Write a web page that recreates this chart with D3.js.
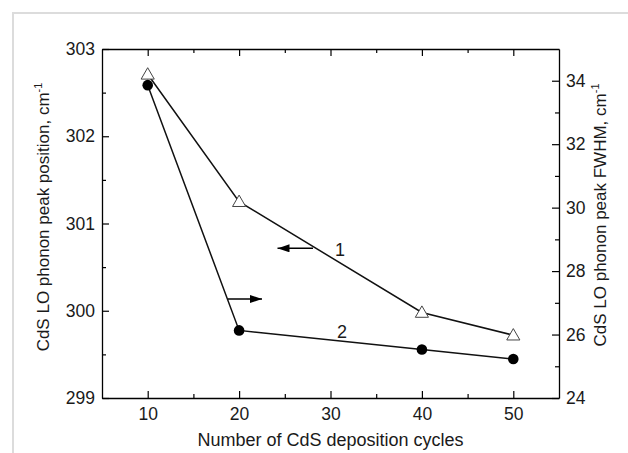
<!DOCTYPE html>
<html><head><meta charset="utf-8">
<script src="https://cdn.jsdelivr.net/npm/d3@7"></script>
<style>html,body{margin:0;padding:0;background:#fff;}svg{display:block;}</style>
</head><body>
<svg id="c" width="628" height="453"></svg>
<script>
const cycles = [10, 20, 40, 50];
const peakPosition = [302.71, 301.25, 299.98, 299.72]; // series 1, left axis (triangles)
const peakFWHM = [33.86, 26.13, 25.53, 25.23];          // series 2, right axis (circles)
const xTicks = [10, 20, 30, 40, 50];
const yLeftTicks = [299, 300, 301, 302, 303];
const yRightTicks = [24, 26, 28, 30, 32, 34];

const svg = d3.select("#c");
const font = "'Liberation Sans', Arial, sans-serif";
const L = 102, R = 559, T = 49, B = 398;

const x = d3.scaleLinear().domain([5, 55]).range([L, R]);
const yL = d3.scaleLinear().domain([299, 303]).range([B, T]);
const yR = d3.scaleLinear().domain([24, 35]).range([B, T]);

// page frame
svg.append("path").attr("d", `M13,453 V13 H628`).attr("fill", "none")
  .attr("stroke", "#dcdcdc").attr("stroke-width", 2);

function styleAxis(g) {
  g.select(".domain").attr("stroke", "#000").attr("stroke-width", 1.3);
  g.selectAll(".tick line").attr("stroke", "#000").attr("stroke-width", 1.2);
  g.selectAll("text").attr("font-family", font).attr("font-size", 17.5).attr("fill", "#1a1a1a");
}
function minor(g) {
  g.select(".domain").remove();
  g.selectAll("line").attr("stroke", "#000").attr("stroke-width", 1.2);
}

// bottom axis
const gx = svg.append("g").attr("transform", `translate(0,${B})`)
  .call(d3.axisBottom(x).tickValues(xTicks).tickSizeInner(-7).tickSizeOuter(0).tickPadding(10).tickFormat(d3.format("d")));
styleAxis(gx);
svg.append("g").attr("transform", `translate(0,${B})`)
  .call(d3.axisBottom(x).tickValues([15, 25, 35, 45]).tickSizeInner(-4).tickSizeOuter(0).tickFormat("")).call(minor);
// top axis
const gt = svg.append("g").attr("transform", `translate(0,${T})`)
  .call(d3.axisTop(x).tickValues(xTicks).tickSizeInner(-7).tickSizeOuter(0).tickFormat(""));
styleAxis(gt);
svg.append("g").attr("transform", `translate(0,${T})`)
  .call(d3.axisTop(x).tickValues([15, 25, 35, 45]).tickSizeInner(-4).tickSizeOuter(0).tickFormat("")).call(minor);

// left axis
const gl = svg.append("g").attr("transform", `translate(${L},0)`)
  .call(d3.axisLeft(yL).tickValues(yLeftTicks).tickSizeInner(-7).tickSizeOuter(0).tickPadding(7).tickFormat(d3.format("d")));
styleAxis(gl);
svg.append("g").attr("transform", `translate(${L},0)`)
  .call(d3.axisLeft(yL).tickValues([299.5, 300.5, 301.5, 302.5]).tickSizeInner(-4).tickSizeOuter(0).tickFormat("")).call(minor);

// right axis
const gr = svg.append("g").attr("transform", `translate(${R},0)`)
  .call(d3.axisRight(yR).tickValues(yRightTicks).tickSizeInner(-7).tickSizeOuter(0).tickPadding(7).tickFormat(d3.format("d")));
styleAxis(gr);
svg.append("g").attr("transform", `translate(${R},0)`)
  .call(d3.axisRight(yR).tickValues([25, 27, 29, 31, 33]).tickSizeInner(-4).tickSizeOuter(0).tickFormat("")).call(minor);

// axis titles
svg.append("text").attr("x", 330.5).attr("y", 446).attr("text-anchor", "middle")
  .attr("font-family", font).attr("font-size", 18).attr("fill", "#1a1a1a").text("Number of CdS deposition cycles");
const lt = svg.append("text").attr("transform", `translate(49,217) rotate(-90)`).attr("text-anchor", "middle")
  .attr("font-family", font).attr("font-size", 17).attr("fill", "#1a1a1a");
lt.append("tspan").text("CdS LO phonon peak position, cm");
lt.append("tspan").attr("dy", -7).attr("font-size", 11).text("-1");
const rt = svg.append("text").attr("transform", `translate(606,215) rotate(-90)`).attr("text-anchor", "middle")
  .attr("font-family", font).attr("font-size", 17).attr("fill", "#1a1a1a");
rt.append("tspan").text("CdS LO phonon peak FWHM, cm");
rt.append("tspan").attr("dy", -7).attr("font-size", 11).text("-1");

// series lines
const line1 = d3.line().x((d, i) => x(cycles[i])).y(d => yL(d));
const line2 = d3.line().x((d, i) => x(cycles[i])).y(d => yR(d));
svg.append("path").attr("d", line1(peakPosition)).attr("fill", "none").attr("stroke", "#111").attr("stroke-width", 1.5);
svg.append("path").attr("d", line2(peakFWHM)).attr("fill", "none").attr("stroke", "#111").attr("stroke-width", 1.5);

// markers
const tri = d3.symbol().type(d3.symbolTriangle).size(75);
svg.selectAll(".tri").data(peakPosition).join("path")
  .attr("transform", (d, i) => `translate(${x(cycles[i])},${yL(d) + 1})`)
  .attr("d", tri).attr("fill", "#fff").attr("stroke", "#444").attr("stroke-width", 1);
svg.selectAll(".dot").data(peakFWHM).join("circle")
  .attr("cx", (d, i) => x(cycles[i])).attr("cy", d => yR(d)).attr("r", 5.3).attr("fill", "#000");

// annotation arrows
svg.append("defs").append("marker").attr("id", "ah").attr("viewBox", "0 0 12 8")
  .attr("refX", 12).attr("refY", 4).attr("markerWidth", 12).attr("markerHeight", 8)
  .attr("markerUnits", "userSpaceOnUse").attr("orient", "auto")
  .append("path").attr("d", "M0,0 L12,4 L0,8 Z").attr("fill", "#000");
svg.append("line").attr("x1", 313).attr("y1", 248.3).attr("x2", 277.5).attr("y2", 248.3)
  .attr("stroke", "#000").attr("stroke-width", 1.4).attr("marker-end", "url(#ah)");
svg.append("line").attr("x1", 228).attr("y1", 299).attr("x2", 262).attr("y2", 299)
  .attr("stroke", "#000").attr("stroke-width", 1.4).attr("marker-end", "url(#ah)");
svg.append("text").attr("x", 340).attr("y", 256).attr("text-anchor", "middle")
  .attr("font-family", font).attr("font-size", 18).attr("fill", "#1a1a1a").text("1");
svg.append("text").attr("x", 342).attr("y", 338).attr("text-anchor", "middle")
  .attr("font-family", font).attr("font-size", 18).attr("fill", "#1a1a1a").text("2");
</script>
</body></html>
